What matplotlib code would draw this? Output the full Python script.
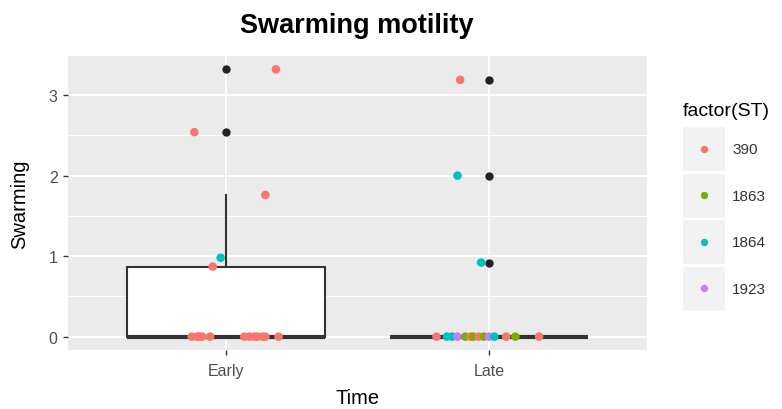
import matplotlib
matplotlib.use('Agg')
import matplotlib.pyplot as plt
from matplotlib.patches import Rectangle
import numpy as np

plt.rcParams['font.family'] = ['Liberation Sans', 'DejaVu Sans']

# ---------------- data ----------------
categories = ['Early', 'Late']
st_levels = ['390', '1863', '1864', '1923']
st_colors = ['#F8766D', '#7CAE00', '#00BFC4', '#C77CFF']

early_st = ['390', '390', '390', '1864', '390'] + ['390'] * 12
early_swarming = [3.32, 2.54, 1.76, 0.98, 0.87] + [0.0] * 12
early_jitter = [0.19, -0.12, 0.15, -0.02, -0.05,
                -0.13, -0.11, -0.10, -0.09, -0.06, 0.07, 0.09, 0.11, 0.12, 0.14, 0.15, 0.20]

late_st = ['390', '1864', '1864',
           '390', '1864', '1864', '1923', '1863', '390', '1863', '390', '1863',
           '1923', '1864', '390', '1863', '390']
late_swarming = [3.19, 2.00, 0.92] + [0.0] * 14
late_jitter = [-0.11, -0.12, -0.03,
               -0.20, -0.16, -0.14, -0.12, -0.09, -0.07, -0.06, -0.04, -0.02,
               0.0, 0.02, 0.065, 0.10, 0.19]

groups_st = [early_st, late_st]
groups_val = [early_swarming, late_swarming]
groups_jit = [early_jitter, late_jitter]

title = 'Swarming motility'
xlabel = 'Time'
ylabel = 'Swarming'
legend_title = 'factor(ST)'

# ---------------- figure ----------------
W, H = 782, 410
fig = plt.figure(figsize=(W / 100, H / 100), dpi=100)
ax = fig.add_axes([68 / W, 59 / H, 579 / W, 294 / H])
ax.set_facecolor('#EBEBEB')
for s in ax.spines.values():
    s.set_visible(False)

allv = np.concatenate([np.array(v) for v in groups_val])
lo, hi = allv.min(), allv.max()
pad = 0.05 * (hi - lo)
ax.set_ylim(lo - pad, hi + pad)
ax.set_xlim(0.4, 2.6)

ax.set_yticks([0, 1, 2, 3])
ax.set_yticks([0.5, 1.5, 2.5], minor=True)
ax.set_xticks([1, 2])
ax.set_xticklabels(categories)
ax.grid(which='major', color='white', linewidth=1.4, zorder=0)
ax.grid(which='minor', axis='y', color='white', linewidth=0.7, zorder=0)
ax.set_axisbelow(True)
ax.tick_params(which='major', length=3.5, width=1.0, color='#333333',
               labelcolor='#4D4D4D', labelsize=11.5)
ax.tick_params(axis='x', pad=6)
ax.tick_params(axis='y', pad=4)
ax.tick_params(which='minor', length=0)

bp = ax.boxplot(groups_val, positions=[1, 2], widths=0.75, whis=1.5,
                patch_artist=True, showcaps=False, manage_ticks=False,
                boxprops=dict(facecolor='white', edgecolor='#333333', linewidth=1.5),
                whiskerprops=dict(color='#333333', linewidth=1.5),
                medianprops=dict(color='#333333', linewidth=3.0, solid_capstyle='butt'),
                flierprops=dict(marker='o', markerfacecolor='#222222',
                                markeredgecolor='#222222', markersize=6.0,
                                markeredgewidth=0),
                zorder=2)

cmap = dict(zip(st_levels, st_colors))
for i, (sts, vals, jit) in enumerate(zip(groups_st, groups_val, groups_jit)):
    xs = [i + 1 + j for j in jit]
    cols = [cmap[s] for s in sts]
    ax.scatter(xs, vals, c=cols, s=38, linewidths=0, zorder=3)

# titles
fig.text(357 / W, 1 - 33 / H, title, ha='center', va='baseline',
         fontsize=19.5, fontweight='bold', color='black')
fig.text(357.5 / W, 1 - 404 / H, xlabel, ha='center', va='baseline',
         fontsize=14.5, color='black')
fig.text(20 / W, 1 - 204 / H, ylabel, ha='center', va='center',
         rotation=90, fontsize=14.5, color='black')

# legend (pixel coordinates overlay)
lax = fig.add_axes([0, 0, 1, 1], facecolor='none')
lax.set_xlim(0, W)
lax.set_ylim(H, 0)
lax.axis('off')
lax.text(683, 112, legend_title, ha='left', va='center', fontsize=14, color='black')
key_top = 127
key_h = 46.5
for k, (lab, col) in enumerate(zip(st_levels, st_colors)):
    y0 = key_top + k * key_h
    lax.add_patch(Rectangle((682, y0), 43, key_h - 1.5, facecolor='#F2F2F2',
                            edgecolor='white', linewidth=1))
    lax.scatter([703.5], [y0 + key_h / 2 - 0.5], s=28, c=[col], linewidths=0)
    lax.text(732, y0 + key_h / 2, lab, ha='left', va='center', fontsize=11,
             color='#333333')

fig.savefig('out.png', dpi=100)
